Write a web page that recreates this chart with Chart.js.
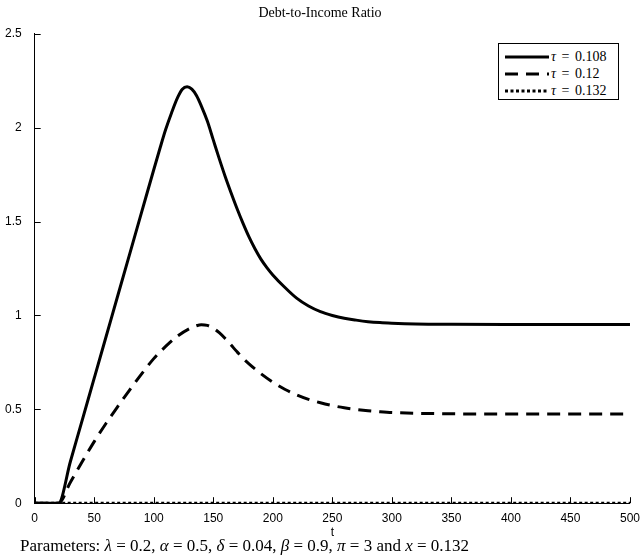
<!DOCTYPE html>
<html>
<head>
<meta charset="utf-8">
<script src="https://cdn.jsdelivr.net/npm/chart.js@4.4.1/dist/chart.umd.min.js"></script>
<style>
  body { margin: 0; background: #fff; }
  #wrap { position: relative; width: 640px; height: 556px; }
  #legend {
    position: absolute; left: 498px; top: 43px; width: 119px; height: 50px;
    border: 1px solid #000; background: #fff; padding: 4px 0 1px 0;
    font-family: "Liberation Serif", "DejaVu Serif", serif; font-size: 14px; word-spacing: 2px;
  }
  .row { display: flex; align-items: center; height: 17px; }
  .row svg { margin: 0 2px 0 6px; }
  #caption {
    position: absolute; left: 20px; top: 536px; white-space: nowrap;
    font-family: "Liberation Serif", "DejaVu Serif", serif; font-size: 17px; color: #000;
  }
</style>
</head>
<body>
<div id="wrap">
  <canvas id="ratioChart"></canvas>
  <div id="legend"></div>
  <div id="caption">Parameters: <i>λ</i> = 0.2, <i>α</i> = 0.5, <i>δ</i> = 0.04, <i>β</i> = 0.9, <i>π</i> = 3 and <i>x</i> = 0.132</div>
</div>
<script>
// tau = 0.108 (solid)
const tSolid = [0, 10, 20, 30, 40, 50, 60, 70, 80, 90, 100, 105, 110, 115, 120, 124, 128, 132, 136, 140,
  145, 150, 155, 160, 165, 170, 175, 180, 185, 190, 195, 200, 210, 220, 230, 240, 250, 260, 270, 280,
  290, 300, 320, 350, 400, 500];
const ratioSolid = [0, 0, 0, 0.222, 0.444, 0.666, 0.888, 1.11, 1.332, 1.554, 1.776, 1.885, 1.99, 2.08, 2.16, 2.205, 2.218, 2.205, 2.17, 2.115,
  2.035, 1.935, 1.835, 1.74, 1.652, 1.568, 1.49, 1.418, 1.355, 1.3, 1.255, 1.216, 1.15, 1.092, 1.05, 1.02, 1.0, 0.985, 0.975, 0.967,
  0.962, 0.959, 0.955, 0.953, 0.952, 0.952];

// tau = 0.12 (dashed)
const tDashed = [0, 10, 20, 30, 40, 50, 60, 70, 80, 90, 100, 110, 120, 130, 135, 140, 145, 150, 155, 160,
  165, 170, 175, 180, 190, 200, 210, 220, 230, 240, 250, 260, 270, 280, 290, 300, 320, 350, 400, 500];
const ratioDashed = [0, 0, 0, 0.112, 0.222, 0.328, 0.426, 0.517, 0.605, 0.69, 0.77, 0.835, 0.89, 0.93, 0.943, 0.951, 0.947, 0.932, 0.908, 0.877,
  0.842, 0.806, 0.772, 0.742, 0.69, 0.645, 0.607, 0.577, 0.553, 0.535, 0.52, 0.508, 0.499, 0.492, 0.487, 0.483, 0.479, 0.476, 0.475, 0.475];

// tau = 0.132 (dotted) stays at zero
const tDotted = [0, 500];
const ratioDotted = [0, 0];

const seriesLabels = ['0.108', '0.12', '0.132'];
const seriesDash = [[], [13, 8], [3, 2.5]];

const xTicks = [0, 50, 100, 150, 200, 250, 300, 350, 400, 450, 500];
const yTicks = [0, 0.5, 1, 1.5, 2, 2.5];

function toPoints(ts, vals) {
  return ts.map((t, i) => ({ x: t, y: vals[i] }));
}

// ticks pointing into the plot, like the original
const innerTicks = {
  id: 'innerTicks',
  afterDraw(chart) {
    const ctx = chart.ctx;
    const x = chart.scales.x, y = chart.scales.y;
    ctx.save();
    ctx.strokeStyle = '#000';
    ctx.lineWidth = 1;
    ctx.beginPath();
    xTicks.forEach(v => {
      const px = Math.round(x.getPixelForValue(v)) + 0.5;
      ctx.moveTo(px, y.bottom);
      ctx.lineTo(px, y.bottom - 6);
    });
    yTicks.forEach(v => {
      const py = Math.round(y.getPixelForValue(v)) + 0.5;
      ctx.moveTo(x.left, py);
      ctx.lineTo(x.left + 6, py);
    });
    ctx.stroke();
    ctx.restore();
  }
};

const series = [[tSolid, ratioSolid], [tDashed, ratioDashed], [tDotted, ratioDotted]];

new Chart(document.getElementById('ratioChart'), {
  type: 'line',
  data: {
    datasets: series.map(([ts, vals], i) => ({
      label: 'τ = ' + seriesLabels[i],
      data: toPoints(ts, vals),
      borderColor: '#000',
      borderWidth: 3,
      borderDash: seriesDash[i],
      pointRadius: 0,
      cubicInterpolationMode: 'monotone',
      fill: false
    }))
  },
  options: {
    responsive: true,
    maintainAspectRatio: false,
    animation: false,
    layout: { padding: { top: 0, right: 0, bottom: 16, left: 0 } },
    plugins: {
      legend: { display: false },
      tooltip: { enabled: false },
      title: {
        display: true,
        text: 'Debt-to-Income Ratio',
        color: '#000',
        font: { family: 'Liberation Serif', size: 14, weight: 'normal' },
        padding: { top: 5, bottom: 12 }
      }
    },
    scales: {
      x: {
        type: 'linear',
        min: 0, max: 500,
        grid: { display: false },
        border: { display: true, color: '#000', width: 1 },
        afterBuildTicks: s => { s.ticks = xTicks.map(v => ({ value: v })); },
        ticks: { color: '#000', font: { family: 'Liberation Sans', size: 12 }, padding: 0, maxRotation: 0 },
        title: { display: true, text: 't', color: '#000', font: { family: 'Liberation Sans', size: 12 }, padding: { top: 0, bottom: 0 } }
      },
      y: {
        min: 0, max: 2.5,
        grid: { display: false },
        border: { display: true, color: '#000', width: 1 },
        afterBuildTicks: s => { s.ticks = yTicks.map(v => ({ value: v })); },
        ticks: { color: '#000', font: { family: 'Liberation Sans', size: 12 }, padding: 5, callback: v => String(v) }
      }
    }
  },
  plugins: [innerTicks]
});

// legend box built from the series arrays
const legend = document.getElementById('legend');
seriesLabels.forEach((lab, i) => {
  const row = document.createElement('div');
  row.className = 'row';
  const dash = seriesDash[i].length ? `stroke-dasharray="${seriesDash[i].join(' ')}"` : '';
  row.innerHTML = `<svg width="44" height="6"><line x1="0" y1="3" x2="44" y2="3" stroke="#000" stroke-width="3" ${dash}/></svg>` +
    `<span><i>τ</i> = ${lab}</span>`;
  legend.appendChild(row);
});
</script>
</body>
</html>
